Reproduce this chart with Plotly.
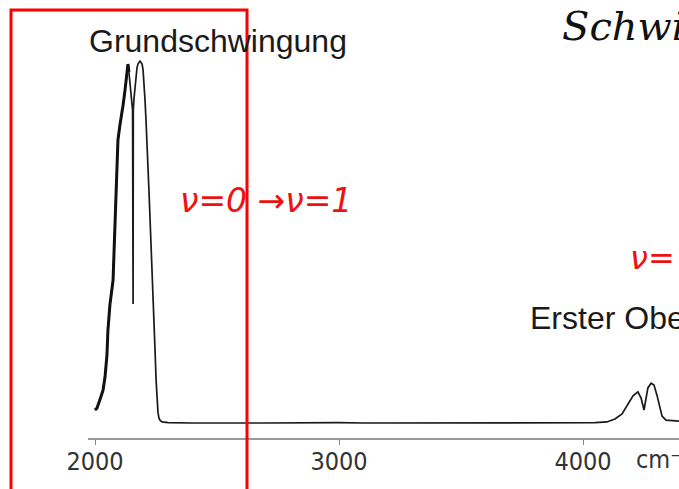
import plotly.graph_objects as go

# ---- data ----
wavenumber = [2000, 2008, 2020, 2033, 2041, 2049, 2053, 2061, 2074, 2078, 2082, 2086, 2090,
              2094, 2102, 2111, 2115, 2123, 2127, 2131, 2135, 2139, 2143, 2148, 2152, 2154,
              2156, 2157, 2160, 2164, 2168, 2172, 2176, 2180, 2184, 2188, 2193, 2197, 2201,
              2205, 2209, 2213, 2217, 2221, 2225, 2229, 2234, 2238, 2242, 2246, 2250, 2254,
              2258, 2262, 2266, 2275, 2300, 2400, 2500, 2600, 2700, 2800, 2900, 3000, 3100,
              3200, 3300, 3400, 3500, 3600, 3700, 3800, 3900, 4000, 4050, 4098, 4131, 4160,
              4184, 4205, 4225, 4238, 4250, 4258, 4266, 4279, 4291, 4303, 4316, 4324, 4340,
              4393]
absorbance = [3.6, 4.1, 6.4, 9.1, 12.7, 18.8, 25.7, 32.6, 39.5, 47.8, 57.5, 67.1, 75.4,
              78.2, 82.3, 85.9, 87.8, 92.0, 94.8, 97.5, 99.2, 97.0, 93.4, 90.7, 87.8, 86.5,
              32.9, 86.5, 89.8, 93.4, 96.1, 98.1, 99.2, 99.7, 100.0, 99.7, 99.2, 97.5, 94.2,
              89.2, 83.7, 78.2, 71.3, 64.4, 57.5, 49.2, 40.9, 34.0, 27.1, 20.2, 12.4, 6.4,
              3.0, 1.4, 0.8, 0.3, 0.1, 0.0, 0.1, 0.0, 0.0, 0.1, 0.0, 0.1, 0.0,
              0.0, 0.1, 0.0, 0.0, 0.1, 0.0, 0.1, 0.0, 0.0, 0.1, 0.3, 1.1, 2.5,
              5.0, 7.5, 8.6, 6.9, 3.6, 6.4, 9.7, 11.0, 10.5, 7.7, 3.6, 1.9, 0.8,
              0.5]

tick_values = [2000, 3000, 4000]
tick_labels = ["2000", "3000", "4000"]
unit_label = "cm\u207b\u00b9"
title_fundamental = "Grundschwingung"
title_overtone = "Erster Oberton"
note_transition = "\u03bd=0 \u2192\u03bd=1"
note_right = "\u03bd="
note_top = "Schwingung"

# ---- layout geometry (pixels of the 679x489 page) ----
W, H = 679, 489
ML, MB = 88, 51
PW, PH = W - ML, H - MB


def px(x):
    return (x - ML) / PW


def py(y):
    return (PH - y) / PH


fig = go.Figure()
fig.add_trace(go.Scatter(x=wavenumber, y=absorbance, mode="lines",
                         line=dict(color="#1a1a1a", width=1.7), hoverinfo="skip",
                         showlegend=False))
# thicker, noisier rising flank of the fundamental band
n_flank = 22
fig.add_trace(go.Scatter(x=wavenumber[:n_flank], y=absorbance[:n_flank], mode="lines",
                         line=dict(color="#111111", width=3), hoverinfo="skip",
                         showlegend=False))

tick_font = dict(family="DejaVu Sans Condensed, DejaVu Sans, sans-serif", size=25, color="#333333")

fig.update_layout(
    width=W, height=H,
    margin=dict(l=ML, r=0, t=0, b=MB),
    paper_bgcolor="white", plot_bgcolor="white",
    xaxis=dict(range=[1971.3, 4393.4], showgrid=False, zeroline=False,
               showline=True, linecolor="#9a9a9a", linewidth=1.5,
               ticks="outside", ticklen=5, tickcolor="#888888", tickwidth=1,
               ticklabelstandoff=-5,
               tickvals=tick_values, ticktext=tick_labels, tickfont=tick_font),
    yaxis=dict(range=[-4.14, 116.9], visible=False, showgrid=False, zeroline=False),
)

fig.add_annotation(text=unit_label, xref="paper", yref="paper", x=px(634), y=py(459),
                   xanchor="left", yanchor="middle", showarrow=False, font=tick_font)
fig.add_annotation(text=title_fundamental, xref="paper", yref="paper", x=px(218), y=py(41),
                   xanchor="center", yanchor="middle", showarrow=False,
                   font=dict(family="Liberation Sans, Arial, sans-serif", size=32, color="#1a1a1a"))
fig.add_annotation(text=title_overtone, xref="paper", yref="paper", x=px(528), y=py(318),
                   xanchor="left", yanchor="middle", showarrow=False,
                   font=dict(family="Liberation Sans, Arial, sans-serif", size=32, color="#1a1a1a"))
fig.add_annotation(text=note_transition, xref="paper", yref="paper", x=px(266), y=py(200),
                   xanchor="center", yanchor="middle", showarrow=False,
                   font=dict(family="DejaVu Sans, sans-serif", size=33, color="#ee1111",
                             style="italic"))
fig.add_annotation(text=note_right, xref="paper", yref="paper", x=px(628), y=py(258),
                   xanchor="left", yanchor="middle", showarrow=False,
                   font=dict(family="DejaVu Sans, sans-serif", size=32, color="#ee1111",
                             style="italic"))
fig.add_annotation(text=note_top, xref="paper", yref="paper", x=px(560), y=py(26),
                   xanchor="left", yanchor="middle", showarrow=False,
                   font=dict(family="DejaVu Serif, serif", size=40, color="#111111",
                             style="italic"))

fig.add_shape(type="rect", xref="paper", yref="paper",
              x0=px(11), x1=px(247), y0=py(500), y1=py(10),
              line=dict(color="#ff0000", width=3), fillcolor="rgba(0,0,0,0)", layer="above")

fig.write_html("out.html")
